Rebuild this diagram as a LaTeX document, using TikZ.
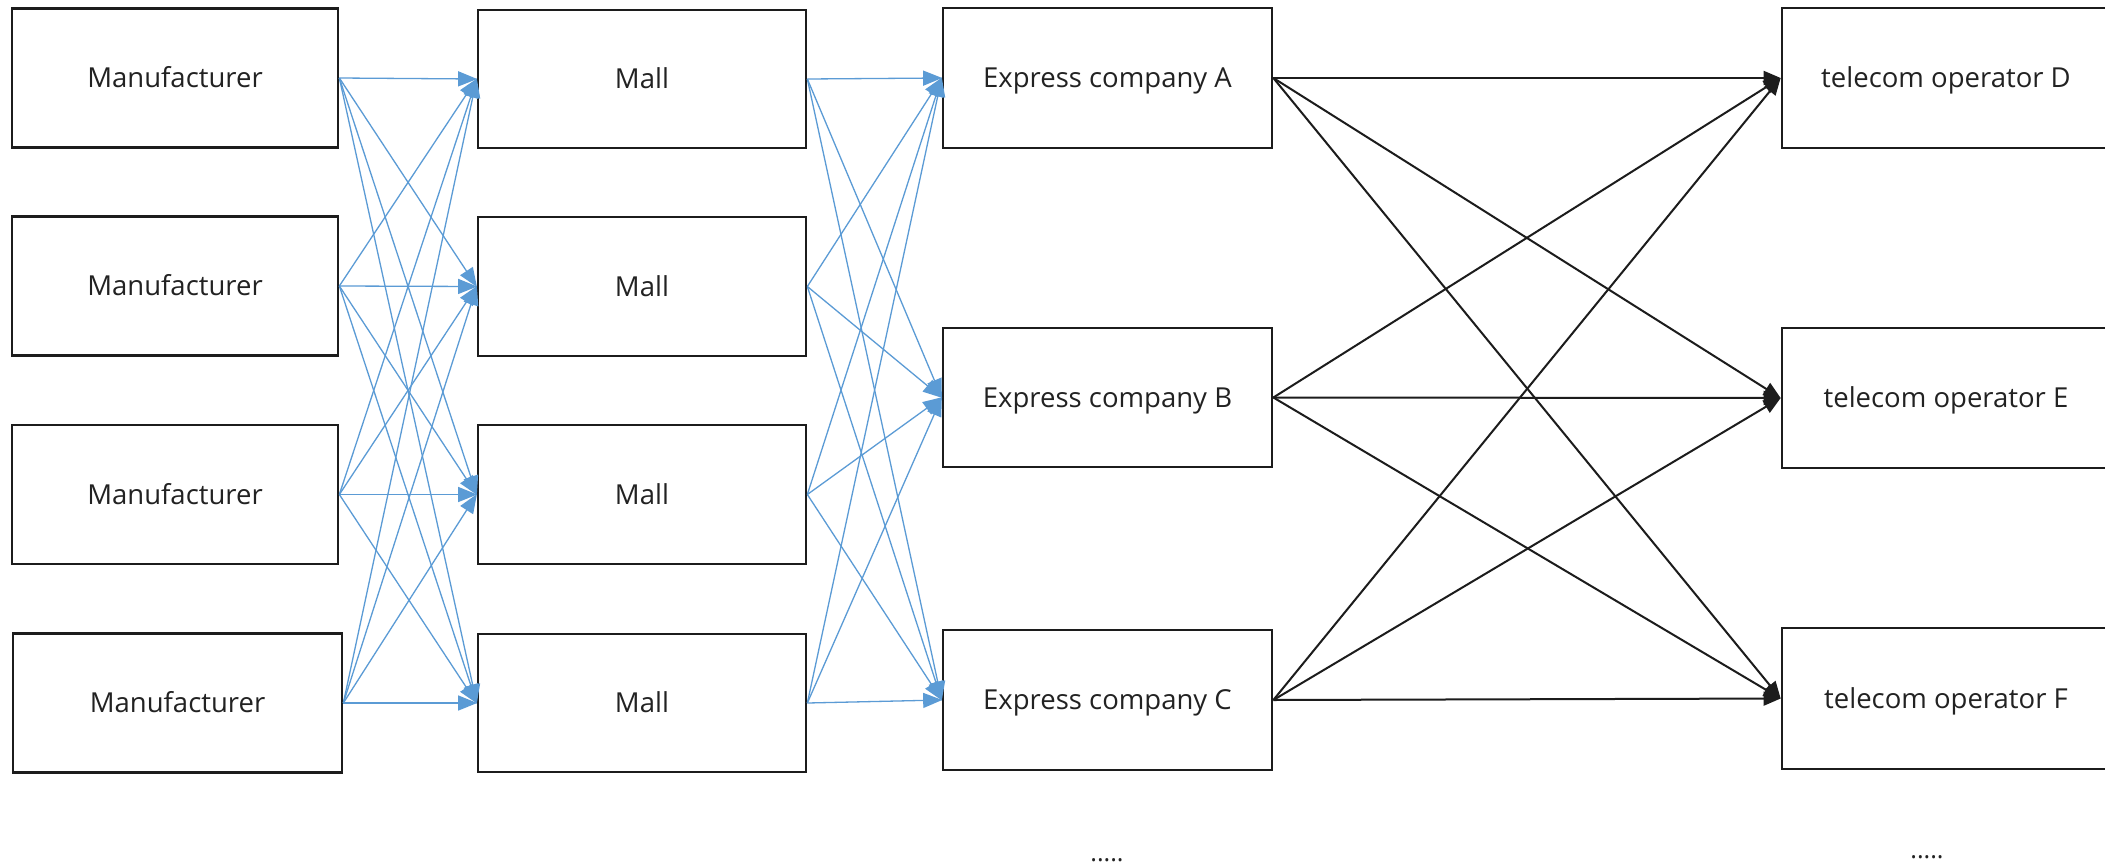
\documentclass[tikz,border=0pt]{standalone}
\usepackage{fontspec}
\setmainfont{Open Sans}
\usetikzlibrary{arrows.meta}
\definecolor{flowblue}{HTML}{5B9BD5}
\definecolor{inkgray}{HTML}{1C1C1C}
\definecolor{textgray}{HTML}{222222}
\tikzset{
  box/.style={draw=inkgray, line width=2.7pt, fill=white, inner sep=0pt,
    minimum width=328pt, minimum height=139pt, text=textgray,
    text height=19.6pt, text depth=0pt,
    font=\fontsize{27.5}{33}\selectfont},
  bluelink/.style={draw=flowblue, line width=1.3pt,
    -{Triangle[length=19pt,width=15pt]}, shorten >=-0.5pt},
  blacklink/.style={draw=inkgray, line width=2pt,
    -{Triangle[length=17pt,width=14pt]}},
  more/.style={text=textgray, font=\fontsize{25}{30}\selectfont, inner sep=0pt, anchor=base}
}
\begin{document}
\begin{tikzpicture}[x=1pt,y=-1pt]
  \useasboundingbox (0,0) rectangle (2105,865);
  \clip (0,0) rectangle (2105,865);
  \fill[white] (0,0) rectangle (2105,865);

  % manufacturers
  \node[box, minimum width=326pt] (m1) at (175,78) {Manufacturer};
  \node[box, minimum width=326pt] (m2) at (175,286) {Manufacturer};
  \node[box, minimum width=326pt] (m3) at (175,494.5) {Manufacturer};
  \node[box, minimum width=329pt] (m4) at (177.5,703) {Manufacturer};

  % malls
  \node[box, minimum height=138pt] (s1) at (642,79) {Mall};
  \node[box] (s2) at (642,286.5) {Mall};
  \node[box] (s3) at (642,494.5) {Mall};
  \node[box, minimum height=138pt] (s4) at (642,703) {Mall};

  % express companies
  \node[box, minimum width=329pt, minimum height=140pt] (ea) at (1107.5,78) {Express company A};
  \node[box, minimum width=329pt] (eb) at (1107.5,397.5) {Express company B};
  \node[box, minimum width=329pt, minimum height=140pt] (ec) at (1107.5,700) {Express company C};

  % telecom operators
  \node[box, minimum height=140pt] (td) at (1946,78) {telecom operator D};
  \node[box, minimum height=140pt] (te) at (1946,398) {telecom operator E};
  \node[box, minimum height=141pt] (tf) at (1946,698.5) {telecom operator F};

  % manufacturer -> mall
  \foreach \a in {m1,m2,m3,m4}
    \foreach \b in {s1,s2,s3,s4}
      \draw[bluelink] (\a.east) -- (\b.west);

  % mall -> express company
  \foreach \a in {s1,s2,s3,s4}
    \foreach \b in {ea,eb,ec}
      \draw[bluelink] (\a.east) -- (\b.west);

  % express company -> telecom operator
  \foreach \a in {ea,eb,ec}
    \foreach \b in {td,te,tf}
      \draw[blacklink] (\a.east) -- (\b.west);

  % continuation marks
  \node[more] (dots1) at (1107,861) {.....};
  \node[more] (dots2) at (1927,858) {.....};
\end{tikzpicture}
\end{document}
